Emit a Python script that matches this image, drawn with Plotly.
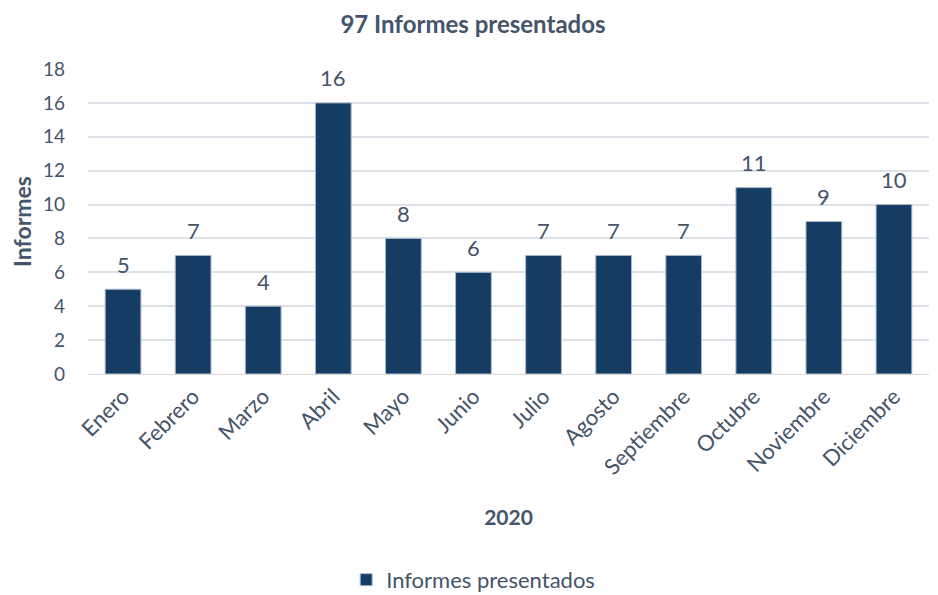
import plotly.graph_objects as go

meses = ["Enero", "Febrero", "Marzo", "Abril", "Mayo", "Junio", "Julio",
         "Agosto", "Septiembre", "Octubre", "Noviembre", "Diciembre"]
informes = [5, 7, 4, 16, 8, 6, 7, 7, 7, 11, 9, 10]
y_ticks = [0, 2, 4, 6, 8, 10, 12, 14, 16, 18]

TXT = "#44546A"
FONT = "Lato, Open Sans, sans-serif"

fig = go.Figure()
fig.add_trace(go.Bar(
    x=meses, y=informes, name="Informes presentados",
    marker=dict(color="#153D64", line=dict(color="#A9B9CC", width=1)),
))

for m, v in zip(meses, informes):
    fig.add_annotation(x=m, y=v, text=str(v), showarrow=False, yanchor="middle",
                       yshift=25, font=dict(size=22, color=TXT, family=FONT))

fig.update_layout(
    width=930, height=587,
    margin=dict(l=80, r=9, t=61, b=221, autoexpand=False),
    paper_bgcolor="white", plot_bgcolor="white",
    font=dict(family=FONT, color=TXT, size=19),
    title=dict(text="<b>97 Informes presentados</b>", x=0.5, xanchor="center",
               y=0.972, yanchor="middle", font=dict(size=24, color=TXT)),
    bargap=0.49,
    showlegend=True,
    legend=dict(orientation="h", x=0.458, xanchor="center", y=-0.675, yanchor="middle",
                font=dict(size=22, color=TXT)),
    xaxis=dict(tickangle=-45, showgrid=False, showline=True, linecolor="#D9D9D9",
               linewidth=1, ticks="", tickfont=dict(size=22), automargin=False,
               title=dict(text="<b>2020</b>", font=dict(size=21), standoff=31)),
    yaxis=dict(range=[0, 18], tickvals=y_ticks, showgrid=True, gridcolor="#DDE1E8",
               gridwidth=1.5, zeroline=False, ticks="", tickfont=dict(size=19),
               ticklabelstandoff=22, automargin=False,
               title=dict(text="<b>Informes</b>", font=dict(size=23), standoff=20)),
)
fig.write_html("out.html")
